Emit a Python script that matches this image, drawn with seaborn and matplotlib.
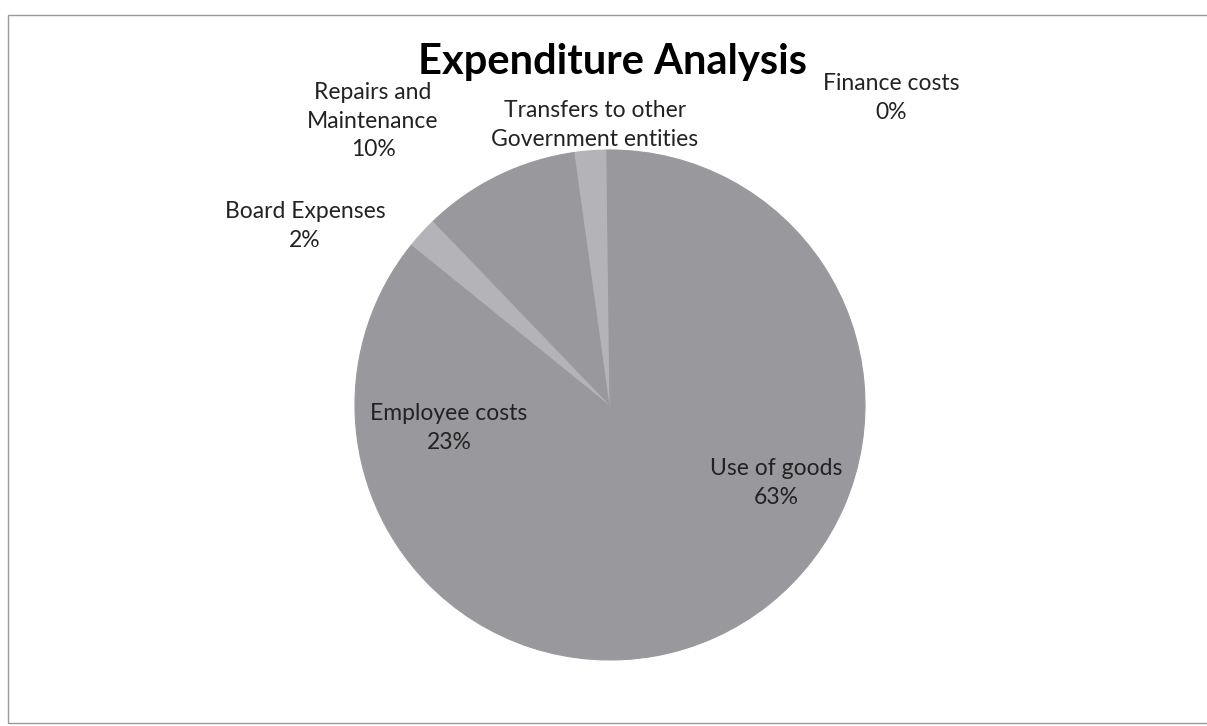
import matplotlib
matplotlib.use("Agg")
import matplotlib.pyplot as plt
import seaborn as sns
from matplotlib.patches import Rectangle

sns.set_theme(style="white")
plt.rcParams['font.family'] = ['Lato', 'DejaVu Sans']

# Data
categories = ["Use of goods", "Employee costs", "Board Expenses",
              "Repairs and\nMaintenance", "Transfers to other\nGovernment entities",
              "Finance costs"]
values = [63, 23, 2, 10, 2, 0.2]
pct_labels = ["63%", "23%", "2%", "10%", "", "0%"]
title = "Expenditure Analysis"

# Styling
dark = "#99999d"
light = "#b4b4b8"
colors = [dark, dark, light, dark, light, dark]
W, H = 1207, 726
label_pos = [(776, 483), (449, 428), (305, 226), (373, 121), (595, 125), (891, 98)]

fig = plt.figure(figsize=(W / 100, H / 100), dpi=100)
ax = fig.add_axes([0, 0, 1, 1])
ax.set_xlim(0, W)
ax.set_ylim(0, H)
ax.set_aspect("equal")
ax.axis("off")

wedges, _ = ax.pie(values, colors=colors, startangle=90, counterclock=False,
                   center=(610, H - 405), radius=255,
                   wedgeprops=dict(linewidth=0.8))
for w in wedges:
    w.set_edgecolor(w.get_facecolor())
ax.set_xlim(0, W)
ax.set_ylim(0, H)

for cat, pct, (px, py) in zip(categories, pct_labels, label_pos):
    txt = cat if pct == "" else f"{cat}\n{pct}"
    ax.text(px, H - py, txt, ha="center", va="center", fontsize=16.5,
            color="#222222", linespacing=1.45)

ax.text(613, H - 62, title, ha="center", va="center", fontsize=30,
        fontweight="bold", color="#000000")

# chart frame
ax.add_patch(Rectangle((8, H - 723), 1230, 708, fill=False,
                       edgecolor="#9a9a9a", linewidth=1.0, clip_on=False))

fig.savefig("out.png", dpi=100, facecolor="white")
